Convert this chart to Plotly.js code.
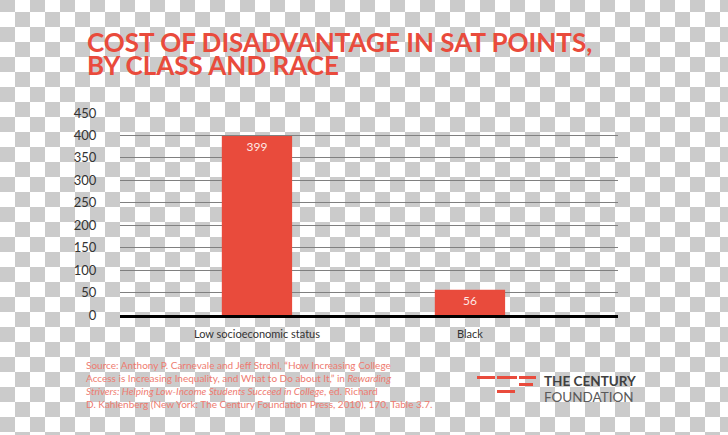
<!DOCTYPE html>
<html>
<head>
<meta charset="utf-8">
<script src="https://cdn.plot.ly/plotly-3.0.1.min.js"></script>
<style>
  html, body { margin: 0; padding: 0; }
  body {
    width: 728px; height: 435px; overflow: hidden;
    background-color: #ffffff;
    background-image:
      linear-gradient(45deg, #cbcbcb 25%, transparent 25%, transparent 75%, #cbcbcb 75%),
      linear-gradient(45deg, #cbcbcb 25%, transparent 25%, transparent 75%, #cbcbcb 75%);
    background-size: 30px 30px;
    background-position: 15px -3px, 0px 12px;
  }
  #myPlot { width: 728px; height: 435px; }
</style>
</head>
<body>
<div id="myPlot"></div>
<script>
// chart data
const categories = ["Low socioeconomic status", "Black"];
const satPoints = [399, 56];
const barLabels = ["399", "56"];
const yTicks = [0, 50, 100, 150, 200, 250, 300, 350, 400, 450];

const red = "#e94b3c";
const font = "Lato, 'Open Sans', sans-serif";

const data = [
  {
    x: categories,
    y: satPoints,
    text: barLabels,
    type: "bar",
    width: 0.33,
    marker: { color: red },
    textposition: "inside",
    insidetextanchor: "end",
    textfont: { color: "#fde8e4", size: 12, family: font },
    hoverinfo: "skip",
  },
];

const sourceText =
  "Source: Anthony P. Carnevale and Jeff Strohl, \u201cHow Increasing College<br>" +
  "Access is Increasing Inequality, and What to Do about It,\u201d in <i>Rewarding</i><br>" +
  "<i>Strivers: Helping Low-Income Students Succeed in College</i>, ed. Richard<br>" +
  "D. Kahlenberg (New York: The Century Foundation Press, 2010), 170, Table 3.7.";

// paper coords from picture pixels
function px(x) { return (x - 120) / 498; }
function py(y) { return (315 - y) / 202; }
function bar(x0, x1, y0) {
  return {
    type: "rect", xref: "paper", yref: "paper",
    x0: px(x0), x1: px(x1), y0: py(y0 + 3), y1: py(y0),
    fillcolor: red, line: { width: 0 },
  };
}
function note(text, x, y, size, color, extra) {
  return Object.assign({
    xref: "paper", yref: "paper",
    x: px(x), y: py(y),
    xanchor: "left", yanchor: "middle",
    align: "left", showarrow: false,
    text: text,
    font: { size: size, color: color, family: font },
  }, extra || {});
}

const layout = {
  width: 728,
  height: 435,
  margin: { l: 120, r: 110, t: 113, b: 120 },
  paper_bgcolor: "rgba(0,0,0,0)",
  plot_bgcolor: "rgba(0,0,0,0)",
  showlegend: false,
  font: { family: font, color: "#333" },
  xaxis: {
    type: "category",
    range: [-0.643, 1.695],
    showgrid: false,
    showline: true,
    linecolor: "#000",
    linewidth: 3,
    ticks: "outside",
    ticklen: 7,
    tickcolor: "rgba(0,0,0,0)",
    tickfont: { size: 11, color: "#333" },
    fixedrange: true,
  },
  yaxis: {
    range: [0, 450],
    tickvals: yTicks,
    ticktext: yTicks.map(String),
    showgrid: true,
    gridcolor: "#808080",
    gridwidth: 1,
    zeroline: false,
    ticks: "outside",
    ticklen: 20,
    tickcolor: "rgba(0,0,0,0)",
    tickfont: { size: 13, color: "#333" },
    fixedrange: true,
  },
  annotations: [
    note("<b>COST OF DISADVANTAGE IN SAT POINTS,</b>", 85, 42, 26, red),
    note("<b>BY CLASS AND RACE</b>", 85, 65, 26, red),
    note(sourceText, 84, 384, 10, "#ee7b70"),
    note("<b>THE CENTURY</b>", 542, 381, 13.5, "#3f3f3f"),
    note("FOUNDATION", 542, 397, 13.5, "#5a5a5a"),
  ],
  shapes: [
    bar(477, 495, 376),
    bar(497, 517, 376),
    bar(519, 536, 376),
    bar(519, 533, 383),
    bar(497, 515, 390),
  ],
};

Plotly.newPlot("myPlot", data, layout, { displayModeBar: false, staticPlot: true });
</script>
</body>
</html>
